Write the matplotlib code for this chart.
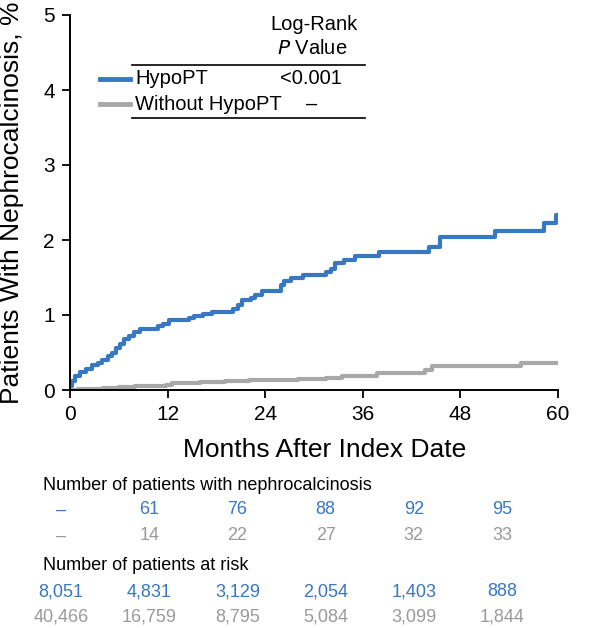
import matplotlib
matplotlib.use("Agg")
import matplotlib.pyplot as plt
from matplotlib.lines import Line2D

plt.rcParams["font.family"] = ["Liberation Sans", "DejaVu Sans"]

BLUE = "#3878c2"
GRAY = "#a8a8a8"
GRAY_TXT = "#9a9a9a"

# cumulative incidence curves (month, %)
hypo_t = [0, 0.3, 0.6, 1.2, 2.0, 2.7, 3.5, 3.9, 4.7, 5.2, 5.7, 6.2, 6.7, 7.3,
          7.9, 8.6, 10.8, 11.4, 12.2, 14.6, 15.3, 16.3, 17.4, 20.1, 20.6, 21.2,
          22.2, 22.8, 23.6, 26.0, 26.3, 27.2, 28.6, 31.5, 32.1, 32.6, 33.7,
          35.1, 38.0, 44.2, 45.5, 52.2, 58.3, 59.7, 60.1]
hypo_v = [0.05, 0.12, 0.19, 0.24, 0.28, 0.33, 0.36, 0.40, 0.45, 0.50, 0.56,
          0.61, 0.68, 0.72, 0.78, 0.81, 0.85, 0.88, 0.94, 0.96, 0.99, 1.01,
          1.04, 1.08, 1.13, 1.20, 1.23, 1.27, 1.32, 1.40, 1.46, 1.50, 1.53,
          1.58, 1.62, 1.69, 1.74, 1.79, 1.84, 1.91, 2.04, 2.12, 2.22, 2.33, 2.33]

ctrl_t = [0, 1.0, 2.5, 4.0, 6.0, 8.0, 10.0, 11.8, 12.5, 13.5, 16.0, 19.0,
          22.0, 25.5, 28.0, 31.5, 33.5, 37.8, 43.7, 44.5, 55.4, 60.0]
ctrl_v = [0.0, 0.01, 0.02, 0.03, 0.04, 0.05, 0.06, 0.07, 0.09, 0.10, 0.11,
          0.12, 0.13, 0.14, 0.15, 0.16, 0.19, 0.23, 0.27, 0.32, 0.36, 0.36]

x_ticks = [0, 12, 24, 36, 48, 60]
y_ticks = [0, 1, 2, 3, 4, 5]

legend_labels = ["HypoPT", "Without HypoPT"]
p_values = ["<0.001", "\u2013"]

events_hypo = ["\u2013", "61", "76", "88", "92", "95"]
events_ctrl = ["\u2013", "14", "22", "27", "32", "33"]
risk_hypo = ["8,051", "4,831", "3,129", "2,054", "1,403", "888"]
risk_ctrl = ["40,466", "16,759", "8,795", "5,084", "3,099", "1,844"]

W, H = 597, 628
fig = plt.figure(figsize=(W / 100, H / 100), dpi=100)


def fx(px):
    return px / W


def fy(py):
    return 1 - py / H


ax = fig.add_axes([fx(70), fy(390), fx(488), 375 / H])
ax.step(ctrl_t, ctrl_v, where="post", color=GRAY, lw=3, solid_capstyle="butt")
ax.step(hypo_t, hypo_v, where="post", color=BLUE, lw=3, solid_capstyle="butt")
ax.set_xlim(0, 60)
ax.set_ylim(0, 5)
ax.set_xticks(x_ticks)
ax.set_yticks(y_ticks)
for s in ["top", "right"]:
    ax.spines[s].set_visible(False)
for s in ["left", "bottom"]:
    ax.spines[s].set_linewidth(1.4)
    ax.spines[s].set_clip_on(False)
ax.tick_params(labelsize=15, length=6, width=1.3, pad=5)
ax.set_xlabel("Months After Index Date", fontsize=19, va="center")
ax.set_ylabel("Patients With Nephrocalcinosis, %", fontsize=19, va="center")
ax.xaxis.set_label_coords((325 - 70) / 488, -60 / 375)
ax.yaxis.set_label_coords((12 - 70) / 488, 0.5)

# legend table
fs_leg = 14.5
fig.text(fx(358), fy(25), "Log-Rank", ha="right", va="center", fontsize=fs_leg)
fig.text(fx(347), fy(49), r"$\it{P}$ Value", ha="right", va="center", fontsize=fs_leg)
for y in (65, 118):
    fig.add_artist(Line2D([fx(132), fx(365)], [fy(y), fy(y)], color="black", lw=1.2))
for i, (lab, pv, col) in enumerate(zip(legend_labels, p_values, [BLUE, GRAY])):
    yy = 79 + i * 25
    fig.add_artist(Line2D([fx(100), fx(130)], [fy(yy), fy(yy)], color=col, lw=3.5))
    fig.text(fx(135), fy(yy), lab, ha="left", va="center", fontsize=fs_leg)
    if i == 0:
        fig.text(fx(342), fy(yy), pv, ha="right", va="center", fontsize=fs_leg)
    else:
        fig.text(fx(312), fy(yy), pv, ha="center", va="center", fontsize=fs_leg)

# numbers below plot
col_x = [61 + i * 88.2 for i in range(6)]
fig.text(fx(43), fy(485), "Number of patients with nephrocalcinosis",
         ha="left", va="center", fontsize=13)
fig.text(fx(43), fy(565), "Number of patients at risk",
         ha="left", va="center", fontsize=13)
rows = [(events_hypo, 510, BLUE), (events_ctrl, 536, GRAY_TXT),
        (risk_hypo, 592, BLUE), (risk_ctrl, 617, GRAY_TXT)]
for vals, yy, col in rows:
    for x, v in zip(col_x, vals):
        fig.text(fx(x), fy(yy), v, ha="center", va="center", fontsize=13, color=col)

fig.savefig("out.png", dpi=100)
